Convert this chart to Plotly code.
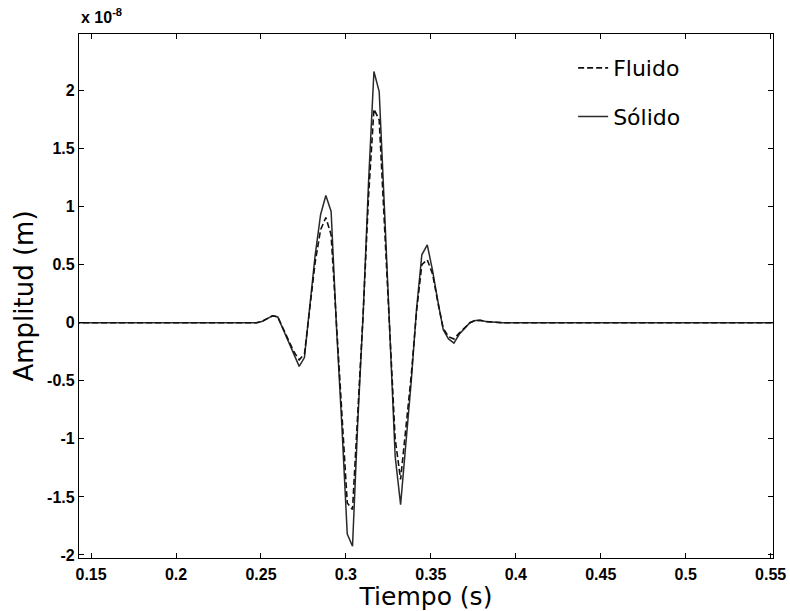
import plotly.graph_objects as go

# Time samples (s)
tiempo = [0.14, 0.2442, 0.2474, 0.2505, 0.2536, 0.2568, 0.2599, 0.2631, 0.2662, 0.2694,
          0.2725, 0.2756, 0.2788, 0.2819, 0.2851, 0.2882, 0.2913, 0.2945, 0.2976, 0.3008,
          0.3039, 0.3070, 0.3102, 0.3133, 0.3165, 0.3196, 0.3228, 0.3259, 0.3290, 0.3322,
          0.3353, 0.3385, 0.3416, 0.3447, 0.3479, 0.3510, 0.3542, 0.3573, 0.3604, 0.3636,
          0.3667, 0.3699, 0.3730, 0.3761, 0.3793, 0.3824, 0.3856, 0.3887, 0.3919, 0.56]

# Amplitudes (x 1e-8 m)
solido = [0, 0, 0, 0.01, 0.035, 0.06, 0.05, -0.06, -0.16, -0.275,
          -0.376, -0.30, 0.17, 0.58, 0.93, 1.096, 0.958, -0.05, -0.88, -1.82,
          -1.925, -0.85, 0.09, 1.2, 2.163, 1.99, 0.95, -0.095, -1.15, -1.566,
          -1.05, -0.5, 0.12, 0.585, 0.671, 0.45, 0.18, -0.06, -0.14, -0.175,
          -0.10, -0.05, 0.0, 0.02, 0.02, 0.01, 0.005, 0, 0, 0]

fluido = [0, 0, 0, 0.01, 0.035, 0.06, 0.05, -0.06, -0.15, -0.25,
          -0.32, -0.27, 0.15, 0.52, 0.80, 0.906, 0.757, -0.03, -0.80, -1.552,
          -1.609, -0.78, 0.09, 1.08, 1.839, 1.747, 0.85, -0.08, -1.0, -1.35,
          -0.9, -0.45, 0.10, 0.50, 0.542, 0.42, 0.17, -0.05, -0.12, -0.14,
          -0.09, -0.04, 0.0, 0.02, 0.02, 0.01, 0.005, 0, 0, 0]

xticks = [0.15, 0.2, 0.25, 0.3, 0.35, 0.4, 0.45, 0.5, 0.55]
xtick_labels = ["0.15", "0.2", "0.25", "0.3", "0.35", "0.4", "0.45", "0.5", "0.55"]
yticks = [-2, -1.5, -1, -0.5, 0, 0.5, 1, 1.5, 2]
ytick_labels = ["-2", "-1.5", "-1", "-0.5", "0", "0.5", "1", "1.5", "2"]

fig = go.Figure()
fig.add_trace(go.Scatter(x=tiempo, y=solido, mode="lines", name="Sólido",
                         line=dict(color="#2a2a2a", width=1.5),
                         legendgroup="b", legendrank=2))
fig.add_trace(go.Scatter(x=tiempo, y=fluido, mode="lines", name="Fluido",
                         line=dict(color="#111111", width=1.6, dash="6px,3px"),
                         legendgroup="a", legendrank=1))

axis_common = dict(showline=True, linecolor="black", linewidth=1.2, mirror="ticks",
                   ticks="inside", ticklen=5, tickcolor="black", tickwidth=1,
                   showgrid=False, zeroline=False, automargin=False,
                   tickfont=dict(family="Liberation Sans", size=16, color="black"))

fig.update_layout(
    width=790, height=611,
    margin=dict(l=79, r=17, t=34, b=53),
    paper_bgcolor="white", plot_bgcolor="white",
    xaxis=dict(range=[0.1429, 0.5514], tickvals=xticks,
               ticktext=["<b>%s</b>" % s for s in xtick_labels],
               ticklabelstandoff=2,
               title=dict(text="Tiempo (s)", font=dict(family="DejaVu Sans", size=25, color="black"),
                          standoff=2),
               **axis_common),
    yaxis=dict(range=[-2.026, 2.486], tickvals=yticks,
               ticktext=["<b>%s</b>" % s for s in ytick_labels],
               title=dict(text="Amplitud (m)", font=dict(family="DejaVu Sans", size=26, color="black"),
                          standoff=6),
               **axis_common),
    legend=dict(x=0.712, y=0.975, xanchor="left", yanchor="top",
                bgcolor="rgba(0,0,0,0)", borderwidth=0,
                font=dict(family="DejaVu Sans", size=22, color="black"),
                traceorder="grouped", tracegroupgap=17),
    showlegend=True,
)

fig.add_annotation(xref="paper", yref="paper", x=0, y=1, xanchor="left", yanchor="bottom",
                   yshift=6, showarrow=False,
                   text="<b>x 10<sup>-8</sup></b>",
                   font=dict(family="Liberation Sans", size=16, color="black"))

fig.write_html("out.html")
